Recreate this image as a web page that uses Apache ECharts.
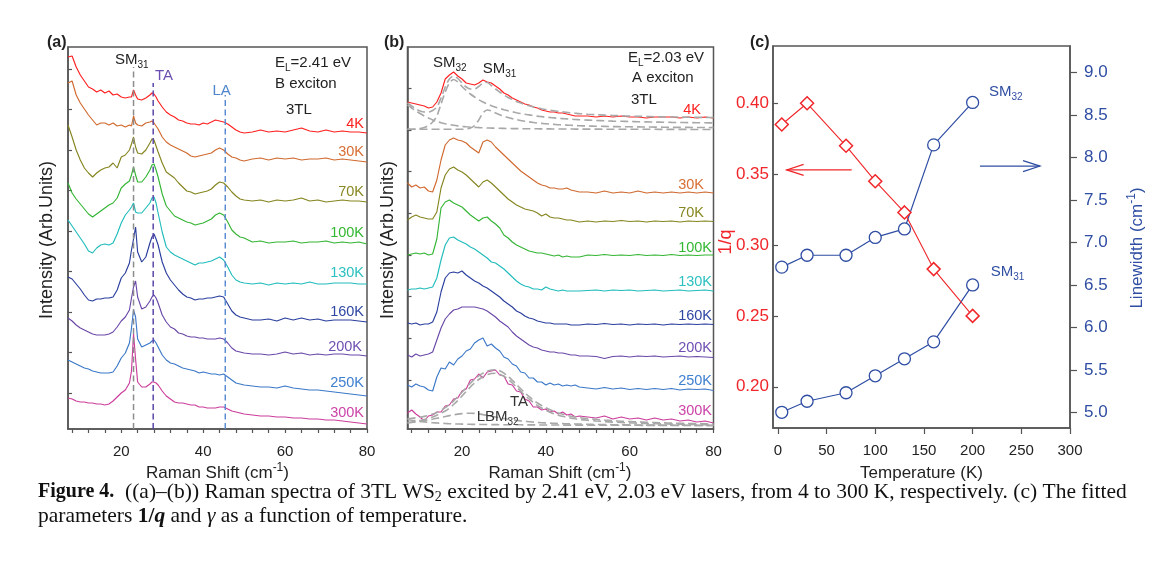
<!DOCTYPE html>
<html><head><meta charset="utf-8">
<script src="https://cdn.jsdelivr.net/npm/echarts@6/dist/echarts.min.js"></script>
<style>html,body{margin:0;padding:0;background:#fff;}#c{width:1168px;height:578px;}</style>
</head><body><div id="c"></div>
<script>
// ---------- Panel (a): E_L = 2.41 eV ----------
const shiftA = [7,8,9,10,11,12,13,14,15,16,17,18,19,20,21,22,22.5,23,23.5,24,25,26,27,27.5,28,28.5,29,30,31,32,33,34,35,36,37,38,39,40,41,42,43,44,45,46,47,48,49,50,52,54,56,58,60,62,64,66,68,70,72,74,76,78,80];
const a4K   = [372,373,362,354,348,342,340,337,339,336,338,334,335,332,331,332,332,339,334,330,329,331,334,336,335,332,328,322,317,314,312,309,308,306,305,305,304,306,305,307,309,308,307,305,302,299,297,296,297,299,297,298,297,299,301,298,297,299,297,298,297,297,296];
const a30K  = [346,348,334,326,320,314,309,304,306,306,304,306,303,304,302,304,303,313,306,304,303,306,307,308,306,303,300,292,287,284,282,280,278,276,273,272,273,274,275,276,279,281,279,275,272,271,269,268,270,271,269,271,270,271,269,270,270,271,269,270,269,268,267];
const a70K  = [304,292,279,269,261,256,252,256,259,261,262,266,261,272,274,279,285,292,282,276,275,279,286,290,289,283,277,266,257,254,251,246,242,238,237,235,236,237,238,240,244,247,246,242,237,233,230,229,228,229,227,229,228,229,231,228,229,227,228,229,228,228,227];
const a100K = [246,236,230,225,220,215,212,215,218,221,224,226,231,241,245,248,254,262,254,247,247,252,259,264,265,259,252,235,223,218,213,211,209,207,206,204,205,206,208,210,214,216,214,207,199,195,192,191,187,188,186,187,187,188,186,187,187,188,186,187,186,187,185];
const a130K = [209,203,197,191,185,178,176,181,184,185,184,186,195,206,214,219,222,226,217,216,216,221,226,231,232,226,216,197,182,177,174,172,170,168,166,164,166,166,167,168,170,172,169,162,154,149,147,146,145,146,144,146,145,146,145,147,145,145,146,146,146,145,145];
const a160K = [152,150,145,140,134,129,128,130,130,131,131,132,139,151,156,166,179,190,202,177,167,172,186,192,195,190,184,167,156,149,144,139,135,132,131,129,130,130,131,131,132,133,132,125,118,114,112,111,109,109,110,108,111,109,111,109,110,108,109,109,109,108,107];
const a200K = [111,108,104,101,99,97,95,94,94,94,95,97,102,108,112,119,131,142,148,132,120,122,128,132,134,131,126,114,107,102,100,96,95,93,92,92,91,91,90,90,90,91,90,86,81,78,77,76,75,75,74,75,77,75,76,74,75,74,75,75,74,74,73];
const a250K = [69,67,65,63,61,60,58,57,56,56,56,57,63,71,76,86,101,119,112,90,82,84,86,88,89,86,82,74,69,66,65,63,61,60,59,58,56,57,56,55,55,54,55,52,49,46,45,44,43,42,42,41,43,41,40,39,39,38,37,36,35,34,33];
const a300K = [31,30,28,27,27,26,26,25,25,24,25,28,32,36,39,46,58,95,70,47,42,42,45,47,47,46,44,38,33,30,27,26,26,25,24,24,22,22,21,21,21,22,22,20,18,17,16,15,14,13,13,12,12,11,11,10,10,9,9,8,7,6,5];
const guideShiftA = [23.0, 27.8, 45.4];      // SM31, TA, LA (cm-1)
const guideTopA   = [362, 346, 334];

// ---------- Panel (b): E_L = 2.03 eV ----------
const shiftB = [7,8,9,10,11,12,13,14,15,16,17,18,19,20,21,22,23,24,25,26,27,28,29,30,31,32,33,34,35,36,37,38,39,40,41,42,43,44,45,46,47,48,50,52,54,56,58,60,62,64,66,68,70,72,74,76,78,80];
const b4K   = [327,326,325,324,323,321,322,327,336,350,354,357,353,350,346,345,344,346,349,347,346,343,340,336,334,331,329,327,325,324,322,321,319,318,317,317,316,316,315,314,313,313,313,312,313,312,313,312,312,311,312,312,312,311,312,311,312,311];
const b30K  = [246,242,244,241,242,238,237,249,269,284,289,291,289,288,286,282,279,276,287,289,287,282,278,274,270,266,262,258,255,252,249,246,244,243,241,241,240,240,241,239,238,237,237,236,238,236,237,236,238,236,237,236,237,236,237,236,237,236];
const b70K  = [209,212,214,212,211,210,210,217,241,254,260,262,259,257,254,250,246,242,247,249,246,242,238,234,230,227,224,222,220,219,218,216,213,215,212,211,211,210,209,209,208,207,208,207,208,207.5,208.5,207.5,208,207,208,207.5,208,207,208,207.5,208,207.5];
const b100K = [174,175,176,175,176,174,175,190,221,227,229,226,224,222,218,214,211,208,211,212,208,205,201,194,191,187,184,182,180,178,177,176,176,175,174,173,174,172,173,172,172,172,174,173.5,174.5,173.5,174,173.5,174.5,173.5,174,173.5,174.5,173.5,174,173.5,174,174];
const b130K = [139,140,140,141,140,141,142,151,169,184,191,192,189,187,185,182,180,177,174,171,167,166,163,160,156,152,148,145,143,142,140,140,139,142,140,139,138,139,138,138,138,138,138.5,139,138,139,138.5,139,138,138.5,139,138,138.5,139,138,138.5,139,138];
const b160K = [106,105,106,104,105,105,107,117,137,151,156,157,156,158,154,151,148,146,143,141,138,135,132,128,125,122,118,116,113,111,110,108,107,106,106,105,105,105,105,104,104,104,105,104.5,105.5,104.5,105,104,105,104.5,105,104,105,104.5,105,104.5,105,104.5];
const b200K = [74,72,75,73,74,75,77,89,101,110,115,119,120,122,122,122,122,121,120,118,115,112,108,105,102,97,93,90,87,84,82,81,79,78,77,77,76,76,75,74,74,73,73,72.5,70.5,72.5,73,72,73,72.5,73,72,72.5,73,72,72.5,72,71.5];
const b250K = [44,42,45,43,42,39,38,52,61,60,67,64,70,73,78,80,86,89,91,83,85,81,78,72,70,65,63,57,56,51,51,47,47,44,46,44,45,43,44,43,44,42,41,40,41.5,40,41,39.5,40.5,39.5,40.5,39.5,40.5,39,40,39.5,40,38.5];
const b300K = [16,19,15,12,8,13,14,17,17,23,24,30,31,38,40,49,50,55,51,57,58,59,54,53,45,44,38,37,30,28,22,22,19,20,17,18,15,17,14,15,12,13,12,11,13,10,12,10,11,9,11,9,10,8,9,7,8,6];
// fitted components (grey dashed)
const fit4Ktotal = [326,323,320,318,317,317,318.5,322,331,342,350,353,350.5,346,342,340,340,342.5,346,346.5,343.5,340,337,334,331.5,329.5,327.5,326,324.5,323.3,322.2,321.2,320.3,319.5,318.8,318.2,317.6,317.1,316.6,316.2,315.8,315.4,314.8,314.3,313.9,313.5,313.2,312.9,312.7,312.5,312.3,312.1,312,311.9,311.8,311.7,311.6,311.5];
const fit4KSM32  = [299.7,299.8,300,300.5,301.5,303.5,307,313,325,337,346,349.5,347,342.5,338.5,335,332,329.3,327,325,323.3,321.8,320.5,319.3,318.2,317.2,316.3,315.5,314.8,314.1,313.5,312.9,312.4,311.9,311.5,311.1,310.7,310.4,310.1,309.8,309.5,309.3,308.9,308.5,308.2,307.9,307.7,307.5,307.3,307.1,306.9,306.8,306.6,306.5,306.4,306.3,306.2,306.1];
const fit4KSM31  = [299.7,299.7,299.7,299.7,299.7,299.7,299.7,299.7,299.7,299.7,299.7,299.7,299.7,299.7,300,301,303.5,309,316,319,318,316,314.3,312.8,311.5,310.4,309.4,308.5,307.8,307.1,306.5,306,305.6,305.2,304.9,304.6,304.3,304.1,303.9,303.7,303.5,303.3,303,302.8,302.6,302.4,302.3,302.2,302.1,302,301.9,301.8,301.7,301.6,301.6,301.5,301.5,301.4];
const fit4Kbg    = [324,321,318,315.5,313,311,309,307.5,306.3,305.3,304.4,303.7,303.1,302.6,302.2,301.9,301.6,301.4,301.2,301,300.9,300.8,300.7,300.6,300.5,300.4,300.4,300.3,300.3,300.2,300.2,300.2,300.1,300.1,300.1,300,300,300,300,300,299.9,299.9,299.9,299.9,299.8,299.8,299.8,299.7,299.7,299.7,299.7,299.6,299.6,299.6,299.6,299.5,299.5,299.5];
const fit300total = [10.5,10.8,11.2,11.8,12.6,13.6,14.9,16.6,18.7,21.3,24.5,28.2,32.3,36.8,41.3,45.8,49.8,53.2,55.9,57.8,59,59.3,58.2,55.9,52.6,48.7,44.5,40.2,36.2,32.5,29,26,23.5,21.2,19.2,17.5,16,14.8,13.7,12.8,12.1,11.4,10.4,9.6,8.9,8.3,7.8,7.4,7,6.7,6.4,6.1,5.9,5.7,5.5,5.4,5.3,5.2];
const fit300TA    = [6.5,7,7.7,8.5,9.5,10.7,12,13.7,15.7,18,21,24.5,28.5,33,37.5,42,46,49.5,52.3,54.3,55.5,55.7,54.8,52.8,49.8,46,42,37.8,33.7,30,26.5,23.5,21,18.8,16.8,15.2,13.8,12.7,11.7,10.9,10.2,9.6,8.7,8,7.4,6.9,6.5,6.1,5.8,5.5,5.3,5.1,4.9,4.7,4.6,4.5,4.4,4.3];
const fit300LBM   = [6,6.5,7,7.6,8.3,9,9.8,10.7,11.6,12.5,13.4,14.2,14.9,15.4,15.7,15.8,15.6,15.1,14.4,13.6,12.8,12,11.2,10.5,9.8,9.2,8.6,8.1,7.7,7.3,6.9,6.6,6.3,6.1,5.9,5.7,5.5,5.4,5.2,5.1,5,4.9,4.7,4.5,4.4,4.3,4.2,4.1,4,3.9,3.9,3.8,3.8,3.7,3.7,3.6,3.6,3.6];
const fit300bg    = [9.5,8.8,8.2,7.6,7.1,6.7,6.3,6,5.7,5.5,5.3,5.1,5,4.9,4.8,4.7,4.6,4.6,4.5,4.5,4.4,4.4,4.3,4.3,4.3,4.2,4.2,4.2,4.1,4.1,4.1,4.1,4,4,4,4,4,3.9,3.9,3.9,3.9,3.9,3.8,3.8,3.8,3.7,3.7,3.7,3.7,3.6,3.6,3.6,3.6,3.5,3.5,3.5,3.5,3.5];

const tempLabels = ['4K','30K','70K','100K','130K','160K','200K','250K','300K'];

// ---------- Panel (c) ----------
const temperature = [4, 30, 70, 100, 130, 160, 200];
const invQ        = [0.385, 0.400, 0.370, 0.345, 0.323, 0.283, 0.250];
const widthSM32   = [6.71, 6.85, 6.85, 7.06, 7.16, 8.15, 8.65];
const widthSM31   = [5.00, 5.13, 5.23, 5.43, 5.63, 5.83, 6.50];
const arrowQ = [[75.8, 0.353], [9.0, 0.353]];   // from -> to (T, 1/q)
const arrowW = [[207.5, 7.90], [269.2, 7.90]];  // from -> to (T, linewidth)

// ticks
const shiftTicks  = [8,12,16,20,24,28,32,36,40,44,48,52,56,60,64,68,72,76,80];
const shiftLabels = [20,40,60,80];
const intTicksA = [36,76.5,117,157.5,198,238.5,279,319.5,360];
const intTicksB = [49,90.7,132.4,174,215.7,257.4,299,340.8];
const tempTicks = [0,50,100,150,200,250,300];
const invQTicks = [0.20,0.25,0.30,0.35,0.40];
const widthTicks = [5.0,5.5,6.0,6.5,7.0,7.5,8.0,8.5,9.0];

// ---------- styles ----------
const FONT = '"Liberation Sans", Arial, sans-serif';
const SERIF = '"Liberation Serif", "Times New Roman", serif';
const AX = '#555';
const colors = ['#ff1f1f','#d0692e','#85851f','#34b534','#22bcbc','#2b3f9e','#6a48a8','#3b78c8','#cc3d9c'];
const labelColors = ['#ff2020','#d86e34','#888822','#33b833','#2cc0c0','#2f47a3','#7050b2','#4080d0','#cc44a8'];
const RED = '#f0262a', BLUE = '#2f4ea3';

const chart = echarts.init(document.getElementById('c'), null, {renderer:'canvas'});

function shiftAxis(gi){
  return {type:'value', gridIndex:gi, min:7, max:80,
    axisLine:{show:true,onZero:false,lineStyle:{color:AX,width:1.5}},
    axisTick:{show:true,inside:false,length:4,customValues:shiftTicks,lineStyle:{color:AX,width:1.2}},
    axisLabel:{customValues:shiftLabels,fontSize:15,color:'#222',margin:15,fontFamily:FONT},
    splitLine:{show:false}};
}
function intAxis(gi, ticks){
  return {type:'value', gridIndex:gi, min:0, max:382,
    axisLine:{show:true,onZero:false,lineStyle:{color:AX,width:1.5}},
    axisTick:{show:true,inside:true,length:4,customValues:ticks,lineStyle:{color:AX,width:1.2}},
    axisLabel:{show:false}, splitLine:{show:false}};
}
function spec(xs, ys, color, gi){
  return {type:'line', xAxisIndex:gi, yAxisIndex:gi, data:xs.map((x,i)=>[x,ys[i]]),
    symbol:'none', silent:true, z:3, lineStyle:{color, width:1.15}};
}
function fit(xs, ys){
  return {type:'line', xAxisIndex:1, yAxisIndex:1, data:xs.map((x,i)=>[x,ys[i]]),
    symbol:'none', silent:true, z:5, smooth:0.3, lineStyle:{color:'#a8a8a8', width:1.6, type:[8,4]}};
}
const guideColors = ['#8c8c8c','#5b47a8','#5b8bd0'];

const seriesA = [a4K,a30K,a70K,a100K,a130K,a160K,a200K,a250K,a300K].map((d,i)=>spec(shiftA,d,colors[i],0));
const seriesB = [b4K,b30K,b70K,b100K,b130K,b160K,b200K,b250K,b300K].map((d,i)=>spec(shiftB,d,colors[i],1));
const guides = guideShiftA.map((x,i)=>({type:'line', xAxisIndex:0, yAxisIndex:0, data:[[x,0],[x,guideTopA[i]]],
  symbol:'none', silent:true, z:6, lineStyle:{color:guideColors[i], width:1.5, type:[6,3.5]}}));
const fits = [fit4Ktotal, fit4KSM32, fit4KSM31, fit4Kbg, fit300total, fit300TA, fit300LBM, fit300bg].map(d=>fit(shiftB,d));

const seriesC = [
  {type:'line', xAxisIndex:2, yAxisIndex:2, data:temperature.map((t,i)=>[t,invQ[i]]), symbol:'diamond', symbolSize:13, z:8,
   lineStyle:{color:RED,width:1.1}, itemStyle:{color:'#fff',borderColor:RED,borderWidth:1.5}},
  {type:'line', xAxisIndex:2, yAxisIndex:3, data:temperature.map((t,i)=>[t,widthSM32[i]]), symbol:'circle', symbolSize:12, z:7,
   lineStyle:{color:BLUE,width:1.2}, itemStyle:{color:'#fff',borderColor:BLUE,borderWidth:1.3}},
  {type:'line', xAxisIndex:2, yAxisIndex:3, data:temperature.map((t,i)=>[t,widthSM31[i]]), symbol:'circle', symbolSize:12, z:7,
   lineStyle:{color:BLUE,width:1.2}, itemStyle:{color:'#fff',borderColor:BLUE,borderWidth:1.3}}
];

// ---------- text helpers ----------
function rich(color, size, family){
  family = family || FONT;
  const s = Math.round(size*0.68);
  return {
    sub:{fontSize:s, fontFamily:family, fill:color, verticalAlign:'bottom', lineHeight:s},
    sup:{fontSize:s, fontFamily:family, fill:color, verticalAlign:'top', lineHeight:s}
  };
}
function T(x, y, text, o){
  o = o || {};
  const size = o.size || 15, color = o.color || '#222';
  return {type:'text', x, y, rotation:o.rot||0, silent:true, z:100,
    style:{text, fill:color, fontSize:size, fontFamily:o.family||FONT, fontWeight:o.weight||'normal',
      align:o.align||'left', verticalAlign:'middle', lineHeight:size+6, rich:rich(color,size,o.family)}};
}
const tempLabelYA = [124,151.7,191.7,232.7,273.3,312.3,346.7,382.7,413.3];
const tempLabelRA = [364,364,364,364,364,364,362,364,364];
const tempLabelYB = [110,185,213,247.5,282,316,347.5,381,411];
const tempLabelRB = [701,704,704,712,712,712,712,712,712];

const texts = [
  T(47,43,'(a)',{weight:'bold',size:16}), T(384,43,'(b)',{weight:'bold',size:16}), T(750,43,'(c)',{weight:'bold',size:16}),
  // panel a
  T(115,60,'SM{sub|31}'), T(155,75.5,'TA',{color:'#6a4fb0'}), T(212.5,90.5,'LA',{color:'#4f86cc'}),
  T(275,63,'E{sub|L}=2.41 eV'), T(275,83.5,'B exciton'), T(286,110,'3TL'),
  T(47.5,240,'Intensity (Arb.Units)',{size:18,align:'center',rot:Math.PI/2}),
  T(217.5,473,'Raman Shift (cm{sup|-1})',{size:17,align:'center'}),
  // panel b
  T(433,63,'SM{sub|32}'), T(482.7,69,'SM{sub|31}'),
  T(628,58,'E{sub|L}=2.03 eV'), T(632,78,'A exciton'), T(631,100,'3TL'),
  T(510,402,'TA',{color:'#333'}), T(476.7,417,'LBM{sub|32}',{color:'#333'}),
  T(388,240,'Intensity (Arb.Units)',{size:18,align:'center',rot:Math.PI/2}),
  T(560,473,'Raman Shift (cm{sup|-1})',{size:17,align:'center'}),
  // panel c
  T(989,91.7,'SM{sub|32}',{color:BLUE}), T(990.7,271.7,'SM{sub|31}',{color:BLUE}),
  T(726,242,'1/q',{size:18,color:RED,align:'center',rot:Math.PI/2}),
  T(1137,248,'Linewidth (cm{sup|-1})',{size:17,color:BLUE,align:'center',rot:Math.PI/2}),
  T(921.5,473,'Temperature (K)',{size:17,align:'center'}),
];
tempLabels.forEach((t,i)=>{
  texts.push(T(tempLabelRA[i], tempLabelYA[i], t, {color:labelColors[i], size:14.5, align:'right'}));
  texts.push(T(tempLabelRB[i], tempLabelYB[i], t, {color:labelColors[i], size:14.5, align:'right'}));
});
// caption
const capSize = 21.5;
const capRich = {
  b:{fontSize:20, fontFamily:SERIF, fontWeight:'bold', fill:'#111'},
  s:{fontSize:14, fontFamily:SERIF, fill:'#111', verticalAlign:'bottom', lineHeight:14},
  i:{fontSize:capSize, fontFamily:SERIF, fontStyle:'italic', fill:'#111'},
  bi:{fontSize:capSize, fontFamily:SERIF, fontStyle:'italic', fontWeight:'bold', fill:'#111'},
  bb:{fontSize:capSize, fontFamily:SERIF, fontWeight:'bold', fill:'#111'}
};
function C(x,y,text){
  return {type:'text', x, y, silent:true, z:100, style:{text, fill:'#111', fontSize:capSize, fontFamily:SERIF,
    align:'left', verticalAlign:'middle', lineHeight:capSize+4, rich:capRich}};
}
texts.push(C(38,492,'{b|Figure 4.}  ((a)–(b)) Raman spectra of 3TL WS{s|2} excited by 2.41 eV, 2.03 eV lasers, from 4 to 300 K, respectively. (c) The fitted'));
texts.push(C(38,516,'parameters {bb|1/}{bi|q} and {i|γ} as a function of temperature.'));

const gridStyle = {show:true, borderColor:AX, borderWidth:1.5, backgroundColor:'transparent'};
const option = {
  animation:false,
  textStyle:{fontFamily:FONT},
  grid:[
    Object.assign({left:68, top:47, width:299, height:382}, gridStyle),
    Object.assign({left:407.5, top:47, width:306, height:382}, gridStyle),
    Object.assign({left:773, top:46, width:297, height:382}, gridStyle)
  ],
  xAxis:[shiftAxis(0), shiftAxis(1),
    {type:'value', gridIndex:2, min:-5, max:300,
     axisLine:{show:true,onZero:false,lineStyle:{color:AX,width:1.5}},
     axisTick:{show:true,inside:false,length:6,customValues:tempTicks,lineStyle:{color:AX,width:1.2}},
     axisLabel:{customValues:tempTicks,fontSize:15,color:'#222',margin:15,fontFamily:FONT},
     splitLine:{show:false}}],
  yAxis:[intAxis(0,intTicksA), intAxis(1,intTicksB),
    {type:'value', gridIndex:2, position:'left', min:0.1709, max:0.4404,
     axisLine:{show:true,onZero:false,lineStyle:{color:AX,width:1.5}},
     axisTick:{show:true,inside:true,length:5,customValues:invQTicks,lineStyle:{color:AX,width:1.2}},
     axisLabel:{customValues:invQTicks,fontSize:17,color:RED,margin:4,fontFamily:FONT,formatter:v=>v.toFixed(2)},
     splitLine:{show:false}},
    {type:'value', gridIndex:2, position:'right', min:4.815, max:9.315,
     axisLine:{show:true,onZero:false,lineStyle:{color:AX,width:1.5}},
     axisTick:{show:true,inside:false,length:7,customValues:widthTicks,lineStyle:{color:AX,width:1.2}},
     axisLabel:{customValues:widthTicks,fontSize:17,color:BLUE,margin:14,fontFamily:FONT,formatter:v=>v.toFixed(1)},
     splitLine:{show:false}}],
  series:[].concat(seriesA, guides, seriesB, fits, seriesC),
  graphic:texts.map((e,i)=>Object.assign({id:'t'+i}, e))
};
chart.setOption(option);

// arrows in panel (c), anchored in data coordinates
function arrowEls(pts, yAxisIndex, color, id){
  const a = chart.convertToPixel({xAxisIndex:2, yAxisIndex}, pts[0]);
  const b = chart.convertToPixel({xAxisIndex:2, yAxisIndex}, pts[1]);
  const dir = Math.sign(a[0]-b[0]);
  const L = 17, H = 5.5;
  const st = {stroke:color, lineWidth:1.2, fill:'none'};
  return [
    {type:'polyline', id:id+'s', silent:true, z:90, shape:{points:[a,b]}, style:st},
    {type:'polyline', id:id+'h', silent:true, z:90, shape:{points:[[b[0]+dir*L,b[1]-H], b, [b[0]+dir*L,b[1]+H]]}, style:st}
  ];
}
chart.setOption({graphic:[].concat(arrowEls(arrowQ,2,RED,'aq'), arrowEls(arrowW,3,BLUE,'aw'))});
</script></body></html>
